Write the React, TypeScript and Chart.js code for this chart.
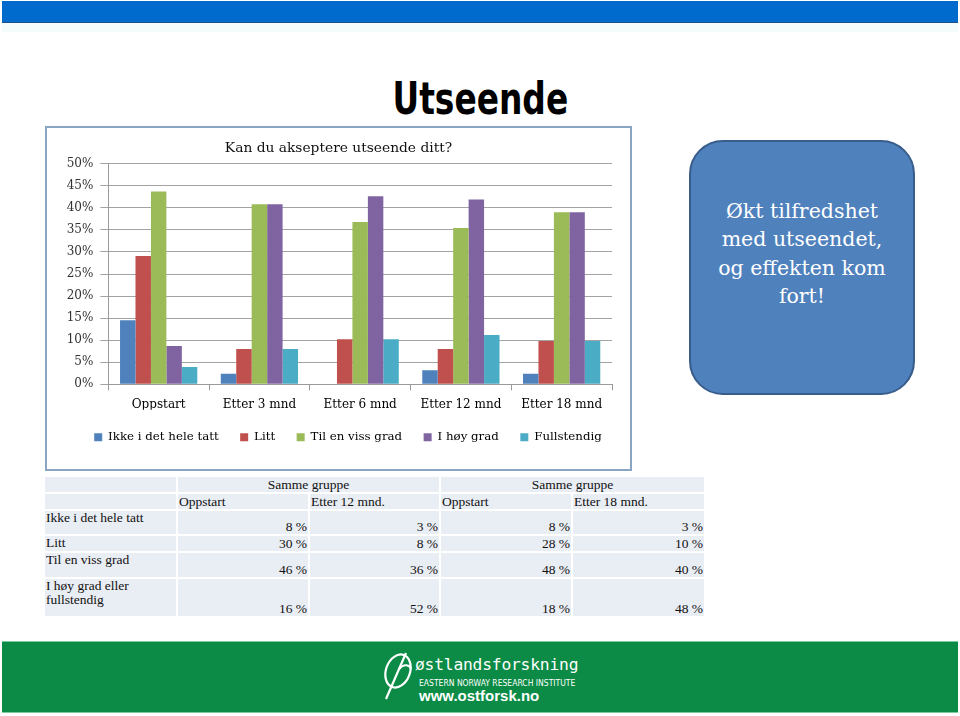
import React, { useEffect, useRef } from "react";
import { Chart, registerables } from "chart.js";

Chart.register(...registerables);

// ---------- Chart data ----------
const categories = ["Oppstart", "Etter 3 mnd", "Etter 6 mnd", "Etter 12 mnd", "Etter 18 mnd"];
const seriesNames = ["Ikke i det hele tatt", "Litt", "Til en viss grad", "I høy grad", "Fullstendig"];
const ikkeValues = [14.5, 2.4, 0, 3.2, 2.4];
const littValues = [29.1, 8.0, 10.2, 8.0, 9.8];
const vissValues = [43.7, 40.8, 36.8, 35.4, 39.0];
const hoyValues = [8.7, 40.8, 42.6, 41.9, 39.0];
const fullValues = [3.9, 8.0, 10.2, 11.2, 9.8];
const seriesColors = ["#4F81BD", "#C0504D", "#9BBB59", "#8064A2", "#4BACC6"];
const yMin = 0;
const yMax = 50;
const yStep = 5;
const chartTitle = "Kan du akseptere utseende ditt?";

// ---------- Slide texts ----------
const slideTitle = "Utseende";
const calloutLines = ["Økt tilfredshet", "med utseendet,", "og effekten kom", "fort!"];

// ---------- Table data ----------
const tableGroups = ["Samme gruppe", "Samme gruppe"];
const tableColumns = ["Oppstart", "Etter 12 mnd.", "Oppstart", "Etter 18 mnd."];
const tableRowLabels = ["Ikke i det hele tatt", "Litt", "Til en viss grad", "I høy grad eller\nfullstendig"];
const rowIkke = ["8 %", "3 %", "8 %", "3 %"];
const rowLitt = ["30 %", "8 %", "28 %", "10 %"];
const rowViss = ["46 %", "36 %", "48 %", "40 %"];
const rowHoy = ["16 %", "52 %", "18 %", "48 %"];

const serif = '"DejaVu Serif", serif';

const titlePlugin = {
  id: "centeredTitle",
  afterDraw(chart: any) {
    const ctx = chart.ctx;
    ctx.save();
    ctx.font = `13.8px ${serif}`;
    ctx.fillStyle = "#111";
    ctx.textAlign = "center";
    ctx.textBaseline = "alphabetic";
    ctx.fillText(chartTitle, chart.width / 2, 24);
    ctx.restore();
  },
};

function BarChart() {
  const ref = useRef<HTMLCanvasElement | null>(null);
  useEffect(() => {
    if (!ref.current) return;
    const valueSets = [ikkeValues, littValues, vissValues, hoyValues, fullValues];
    const chart = new Chart(ref.current, {
      type: "bar",
      data: {
        labels: categories,
        datasets: seriesNames.map((name, i) => ({
          label: name,
          data: valueSets[i],
          backgroundColor: seriesColors[i],
          borderWidth: 0,
          barPercentage: 1,
          categoryPercentage: 0.767,
          yAxisID: "y",
        })),
      },
      options: {
        animation: false,
        responsive: false,
        maintainAspectRatio: false,
        devicePixelRatio: 1,
        layout: { padding: { left: 19, right: 0, top: 35.7, bottom: 15.9 } },
        plugins: {
          title: { display: false },
          tooltip: { enabled: false },
          legend: {
            position: "bottom",
            labels: {
              boxWidth: 8,
              boxHeight: 8,
              padding: 21.5,
              color: "#000",
              font: { family: serif, size: 11.8 },
            },
          },
        },
        scales: {
          x: {
            afterFit: (s: any) => {
              s.height = 25.5;
            },
            grid: {
              drawOnChartArea: false,
              drawTicks: true,
              tickLength: 6,
              color: "#9a9a9a",
              offset: true,
            },
            border: { display: true, color: "#9a9a9a" },
            ticks: { color: "#000", font: { family: serif, size: 12 }, padding: 7 },
          },
          y: {
            position: "left",
            min: yMin,
            max: yMax,
            afterFit: (s: any) => {
              s.width = 42.3;
            },
            grid: { color: "#a3a3a3", drawTicks: true, tickLength: 8 },
            border: { display: true, color: "#9a9a9a" },
            ticks: {
              stepSize: yStep,
              color: "#333",
              padding: 7,
              font: { family: serif, size: 12 },
              callback: (v: any) => `${v}%`,
            },
          },
          yRight: {
            position: "right",
            display: true,
            min: yMin,
            max: yMax,
            afterFit: (s: any) => {
              s.width = 18;
            },
            grid: { display: false, drawTicks: false },
            border: { display: false },
            ticks: { display: false },
          },
        },
      },
      plugins: [titlePlugin],
    });
    return () => chart.destroy();
  }, []);
  return <canvas ref={ref} width={583} height={341} style={{ width: 583, height: 341, display: "block" }} />;
}

const colLefts = [45, 178, 310, 441, 573];
const colWidths = [131, 130, 129, 130, 131];
const rowTops = [477, 494, 511, 536, 553, 579];
const rowHeights = [15, 15, 23, 15, 24, 37];

function Cell(props: {
  col: number;
  row: number;
  span?: number;
  align?: "left" | "right" | "center";
  valign?: "top" | "bottom" | "center";
  children?: React.ReactNode;
}) {
  const { col, row, span = 1, align = "left", valign = "top" } = props;
  let width = 0;
  for (let i = col; i < col + span; i++) width += colWidths[i];
  width += (span - 1) * 2;
  return (
    <div
      style={{
        position: "absolute",
        left: colLefts[col],
        top: rowTops[row],
        width,
        height: rowHeights[row],
        background: "#E9EDF4",
        display: "flex",
        flexDirection: "column",
        justifyContent: valign === "top" ? "flex-start" : valign === "bottom" ? "flex-end" : "center",
        textAlign: align,
        fontFamily: '"Liberation Serif", serif',
        fontSize: 13.5,
        lineHeight: "14px",
        color: "#111",
        paddingLeft: align === "left" ? 1 : 0,
        paddingRight: align === "right" ? 1 : 0,
        boxSizing: "border-box",
        whiteSpace: "pre-line",
        overflow: "visible",
      }}
    >
      <div>{props.children}</div>
    </div>
  );
}

function DataTable() {
  const rows = [rowIkke, rowLitt, rowViss, rowHoy];
  return (
    <>
      <Cell col={0} row={0} />
      <Cell col={1} row={0} span={2} align="center" valign="center">{tableGroups[0]}</Cell>
      <Cell col={3} row={0} span={2} align="center" valign="center">{tableGroups[1]}</Cell>
      <Cell col={0} row={1} />
      {tableColumns.map((c, i) => (
        <Cell key={"h" + i} col={i + 1} row={1} valign="bottom">{c}</Cell>
      ))}
      {tableRowLabels.map((label, r) => (
        <React.Fragment key={"r" + r}>
          <Cell col={0} row={r + 2}>{label}</Cell>
          {rows[r].map((v, c) => (
            <Cell key={"v" + c} col={c + 1} row={r + 2} align="right" valign="bottom">{v}</Cell>
          ))}
        </React.Fragment>
      ))}
    </>
  );
}

function Footer() {
  return (
    <div
      style={{
        position: "absolute",
        left: 2,
        top: 641,
        width: 956,
        height: 72,
        background: "#0B8B45",
        borderTop: "1px solid #7fc9a0",
        borderBottom: "1px solid #7fc9a0",
        boxSizing: "border-box",
      }}
    >
      <svg style={{ position: "absolute", left: 378, top: 7 }} width={36} height={52} viewBox="0 0 36 52">
        <ellipse cx="18" cy="22" rx="12" ry="17" fill="none" stroke="#fff" strokeWidth="2.2" transform="rotate(20 18 22)" />
        <path d="M6 50 L26 4" stroke="#fff" strokeWidth="2.2" fill="none" />
        <path d="M19 20 C 24 14, 30 16, 31 20" stroke="#fff" strokeWidth="2" fill="none" />
      </svg>
      <div
        style={{
          position: "absolute",
          left: 413,
          top: 13,
          fontFamily: '"DejaVu Sans Mono", monospace',
          fontSize: 16.3,
          lineHeight: "20px",
          color: "#fff",
          letterSpacing: -0.2,
        }}
      >
        østlandsforskning
      </div>
      <div
        style={{
          position: "absolute",
          left: 417,
          top: 36,
          width: 160,
          fontFamily: '"Liberation Sans Narrow", "DejaVu Sans Condensed", sans-serif',
          fontSize: 8.5,
          lineHeight: "10px",
          color: "#fff",
          whiteSpace: "nowrap",
        }}
      >
        EASTERN NORWAY RESEARCH INSTITUTE
      </div>
      <div
        style={{
          position: "absolute",
          left: 417,
          top: 45,
          fontFamily: '"Liberation Sans", Arial, sans-serif',
          fontWeight: "bold",
          fontSize: 15,
          lineHeight: "18px",
          color: "#fff",
        }}
      >
        www.ostforsk.no
      </div>
    </div>
  );
}

export default function App() {
  return (
    <div style={{ position: "absolute", left: 0, top: 0, width: 960, height: 716, background: "#fff", overflow: "hidden" }}>
      {/* top bar */}
      <div style={{ position: "absolute", left: 2, top: 1, width: 956, height: 22, background: "#006BCC", borderBottom: "1px solid #1d4f8c", boxSizing: "border-box" }} />
      <div style={{ position: "absolute", left: 2, top: 23, width: 956, height: 9, background: "#F3FBFB" }} />
      {/* slide title */}
      <div
        style={{
          position: "absolute",
          left: 0,
          top: 76,
          width: 960,
          textAlign: "center",
          fontFamily: '"Liberation Sans Narrow", "DejaVu Sans", sans-serif',
          fontWeight: "bold",
          fontSize: 45,
          lineHeight: "45px",
          color: "#000",
        }}
      >
        <span style={{ display: "inline-block", transform: "scaleX(0.73)", transformOrigin: "50% 50%" }}>{slideTitle}</span>
      </div>
      {/* chart box */}
      <div
        style={{
          position: "absolute",
          left: 45,
          top: 126,
          width: 587,
          height: 345,
          border: "2px solid #8AA4C4",
          boxSizing: "border-box",
          background: "#fff",
        }}
      >
        <BarChart />
      </div>
      {/* callout */}
      <div
        style={{
          position: "absolute",
          left: 689,
          top: 140,
          width: 226,
          height: 255,
          borderRadius: 34,
          background: "#4F81BD",
          border: "2px solid #385D8A",
          boxSizing: "border-box",
          color: "#fff",
          fontFamily: serif,
          fontSize: 20.5,
          lineHeight: "28.3px",
          textAlign: "center",
          paddingTop: 55,
        }}
      >
        {calloutLines.map((l, i) => (
          <div key={i}>{l}</div>
        ))}
      </div>
      <DataTable />
      <Footer />
    </div>
  );
}
